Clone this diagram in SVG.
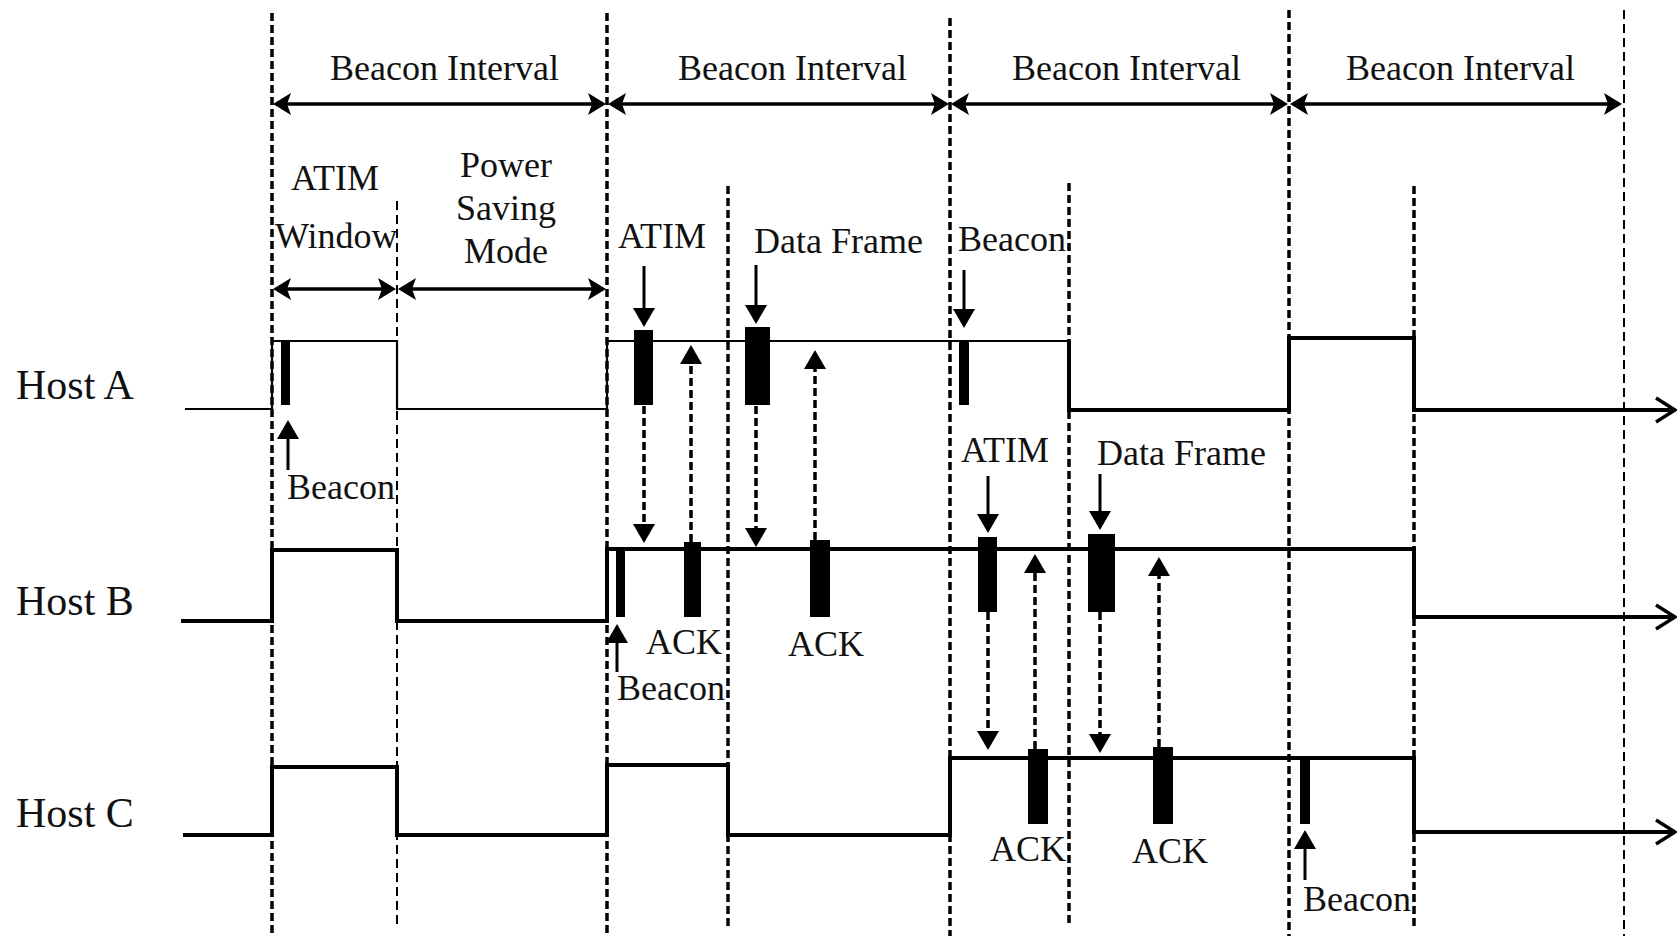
<svg xmlns="http://www.w3.org/2000/svg" width="1677" height="936" viewBox="0 0 1677 936">
<style>
text{font-family:"Liberation Serif","Times New Roman",serif;font-size:36px;fill:#111}
.host{font-size:42px}
.mid{text-anchor:middle}
.vd{stroke:#000;stroke-width:3.5;stroke-dasharray:8 4;fill:none}
.vt{stroke:#000;stroke-width:2;stroke-dasharray:9 5;fill:none}
.iv{stroke:#000;stroke-width:3.5;fill:none;marker-start:url(#bi);marker-end:url(#bi)}
.sa{stroke:#000;stroke-width:3;fill:none;marker-end:url(#ah)}
.da{stroke:#000;stroke-width:3.5;stroke-dasharray:8 4;fill:none;marker-end:url(#ah)}
.sig{stroke:#000;stroke-width:4;fill:none;stroke-linejoin:miter}
.sigt{stroke:#000;stroke-width:2.2;fill:none}
.chev{stroke:#000;stroke-width:3.5;fill:none}
.blk{fill:#000}
</style>
<defs>
<marker id="bi" viewBox="0 0 18 22" refX="6" refY="11" markerWidth="18" markerHeight="22" markerUnits="userSpaceOnUse" orient="auto-start-reverse">
<path d="M0,0 L18,11 L0,22 L4,11 Z" fill="#000"/>
</marker>
<marker id="ah" viewBox="0 0 19 22" refX="9" refY="11" markerWidth="19" markerHeight="22" markerUnits="userSpaceOnUse" orient="auto">
<path d="M0,0 L19,11 L0,22 Z" fill="#000"/>
</marker>
</defs>

<g id="grid">
<line class="vd" x1="272" y1="13" x2="272" y2="936"/>
<line class="vd" x1="607" y1="13" x2="607" y2="936"/>
<line class="vd" x1="950" y1="18" x2="950" y2="936"/>
<line class="vd" x1="1289" y1="10" x2="1289" y2="936"/>
<line class="vt" x1="1624" y1="10" x2="1624" y2="936"/>
<line class="vt" x1="397" y1="201" x2="397" y2="928"/>
<line class="vd" x1="728" y1="186" x2="728" y2="928"/>
<line class="vd" x1="1069" y1="183" x2="1069" y2="926"/>
<line class="vd" x1="1414" y1="186" x2="1414" y2="928"/>
</g>

<g id="intervals">
<line class="iv" x1="285" y1="104" x2="594" y2="104"/>
<line class="iv" x1="620" y1="104" x2="937" y2="104"/>
<line class="iv" x1="963" y1="104" x2="1276" y2="104"/>
<line class="iv" x1="1302" y1="104" x2="1610" y2="104"/>
<text x="330" y="80">Beacon Interval</text>
<text x="678" y="80">Beacon Interval</text>
<text x="1012" y="80">Beacon Interval</text>
<text x="1346" y="80">Beacon Interval</text>
<line class="iv" x1="285" y1="289" x2="384" y2="289"/>
<line class="iv" x1="410" y1="289" x2="594" y2="289"/>
<text x="291" y="190">ATIM</text>
<text x="275" y="248">Window</text>
<text class="mid" x="506" y="177">Power</text>
<text class="mid" x="506" y="220">Saving</text>
<text class="mid" x="506" y="263">Mode</text>
</g>

<g id="hostA">
<text class="host" x="16" y="399">Host A</text>
<polyline class="sigt" points="185,409 272,409 272,341 397,341 397,409 607,409 607,341 1069,341"/>
<polyline class="sig" points="1069,341 1069,410 1289,410 1289,338 1414,338 1414,410 1674,410"/>
<polyline class="chev" points="1656,398 1675,410 1656,422"/>
<rect class="blk" x="281" y="341" width="9" height="64"/>
<rect class="blk" x="634" y="330" width="19" height="75"/>
<rect class="blk" x="745" y="327" width="25" height="78"/>
<rect class="blk" x="959" y="341" width="10" height="64"/>
</g>

<g id="hostB">
<text class="host" x="16" y="615">Host B</text>
<polyline class="sig" points="181,621 272,621 272,550 397,550 397,621 607,621 607,549 1414,549 1414,617 1674,617"/>
<polyline class="chev" points="1656,605 1675,617 1656,629"/>
<rect class="blk" x="616" y="550" width="9" height="67"/>
<rect class="blk" x="684" y="542" width="17" height="75"/>
<rect class="blk" x="810" y="540" width="20" height="77"/>
<rect class="blk" x="978" y="537" width="19" height="75"/>
<rect class="blk" x="1088" y="534" width="27" height="78"/>
</g>

<g id="hostC">
<text class="host" x="16" y="827">Host C</text>
<polyline class="sig" points="183,835 272,835 272,767 397,767 397,835 607,835 607,765 728,765 728,835 950,835 950,758 1414,758 1414,832 1674,832"/>
<polyline class="chev" points="1656,820 1675,832 1656,844"/>
<rect class="blk" x="1028" y="749" width="20" height="75"/>
<rect class="blk" x="1153" y="747" width="20" height="77"/>
<rect class="blk" x="1300" y="759" width="10" height="65"/>
</g>

<g id="labels">
<text x="618" y="248">ATIM</text>
<text x="754" y="253">Data Frame</text>
<text x="958" y="251">Beacon</text>
<text x="287" y="499">Beacon</text>
<text x="961" y="462">ATIM</text>
<text x="1097" y="465">Data Frame</text>
<text x="646" y="654">ACK</text>
<text x="788" y="656">ACK</text>
<text x="617" y="700">Beacon</text>
<text x="990" y="861">ACK</text>
<text x="1132" y="863">ACK</text>
<text x="1303" y="911">Beacon</text>
</g>

<g id="connectors">
<line class="sa" x1="644" y1="266" x2="644" y2="317"/>
<line class="sa" x1="756" y1="265" x2="756" y2="314"/>
<line class="sa" x1="964" y1="270" x2="964" y2="318"/>
<line class="sa" x1="988" y1="476" x2="988" y2="523"/>
<line class="sa" x1="1100" y1="474" x2="1100" y2="520"/>
<line class="sa" x1="288" y1="470" x2="288" y2="430"/>
<line class="sa" x1="617" y1="672" x2="617" y2="634"/>
<line class="sa" x1="1305" y1="880" x2="1305" y2="840"/>
<line class="da" x1="644" y1="406" x2="644" y2="533"/>
<line class="da" x1="691" y1="542" x2="691" y2="355"/>
<line class="da" x1="756" y1="406" x2="756" y2="537"/>
<line class="da" x1="815" y1="540" x2="815" y2="360"/>
<line class="da" x1="988" y1="612" x2="988" y2="740"/>
<line class="da" x1="1035" y1="749" x2="1035" y2="564"/>
<line class="da" x1="1100" y1="612" x2="1100" y2="743"/>
<line class="da" x1="1159" y1="747" x2="1159" y2="567"/>
</g>
</svg>
